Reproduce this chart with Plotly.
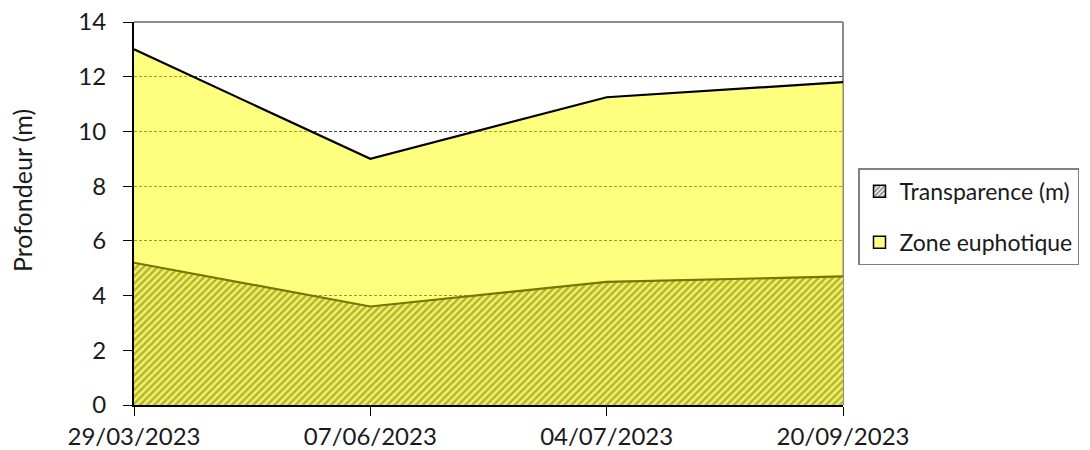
import plotly.graph_objects as go

dates = ["29/03/2023", "07/06/2023", "04/07/2023", "20/09/2023"]
zone_euphotique = [13.0, 9.0, 11.25, 11.8]
transparence = [5.2, 3.6, 4.5, 4.7]

FONT = "Lato"
TXT = "#1a1a1a"
HATCH = dict(shape="/", fgcolor="#767600", bgcolor="#f2f266", size=5, solidity=0.5)

fig = go.Figure()
fig.add_trace(go.Scatter(
    x=dates, y=zone_euphotique, name="Zone euphotique",
    mode="lines", fill="tozeroy",
    fillcolor="rgba(255,255,0,0.5)",
    line=dict(color="#000000", width=2.2),
    showlegend=False,
))
fig.add_trace(go.Scatter(
    x=dates, y=transparence, name="Transparence (m)",
    mode="lines", fill="tozeroy",
    fillcolor="#f2f266",
    fillpattern=HATCH,
    line=dict(color="#767600", width=2.2),
    showlegend=False,
))

# legend swatches (square symbols like the reference)
fig.add_trace(go.Bar(
    x=[None], y=[None], name="Transparence (m)", legendgroup="a",
    marker=dict(color="white", line=dict(color="black", width=1.5),
                pattern=dict(shape="/", fgcolor="black", bgcolor="white", size=4, solidity=0.5)),
))
fig.add_trace(go.Bar(
    x=[None], y=[None], name="Zone euphotique", legendgroup="b",
    marker=dict(color="#ffff80", line=dict(color="black", width=1.5)),
))

# the page body adds an 8px margin, so the figure is 8px smaller and shifted
fig.update_layout(
    width=1082, height=442,
    margin=dict(l=126, r=247, t=14, b=45, autoexpand=False),
    plot_bgcolor="white", paper_bgcolor="white",
    font=dict(family=FONT, size=24, color=TXT),
    showlegend=True,
    legend=dict(
        x=(850 - 126) / 709, y=0.618, xanchor="left", yanchor="top",
        bordercolor="#808080", borderwidth=1.5,
        traceorder="grouped",
        font=dict(family=FONT, size=23, color=TXT),
        tracegroupgap=18,
    ),
    xaxis=dict(
        type="category", range=[0, 3],
        showgrid=False, showline=True, linecolor="black", linewidth=2,
        ticks="outside", ticklen=9, tickcolor="black", tickwidth=1,
        zeroline=False, automargin=False, ticklabelstandoff=0,
        ticklabeloverflow="allow",
    ),
    yaxis=dict(
        range=[0, 14], dtick=2,
        showgrid=True, gridcolor="#404040", gridwidth=1, griddash="3px,2px",
        showline=True, linecolor="black", linewidth=2,
        ticks="outside", ticklen=9, tickcolor="black", tickwidth=1,
        zeroline=False, automargin=False, ticklabelstandoff=12,
        ticklabeloverflow="allow",
    ),
)

fig.add_annotation(
    text="Profondeur (m)", textangle=-90, xref="paper", yref="paper",
    x=(22 - 134) / 709, y=(405 - 191) / 383, showarrow=False,
    xanchor="center", yanchor="middle",
    font=dict(family=FONT, size=25, color=TXT),
)

# top and right plot-area border in gray
fig.add_shape(type="line", xref="paper", yref="paper", x0=0, x1=1, y0=1, y1=1,
              line=dict(color="#8c8c8c", width=2))
fig.add_shape(type="line", xref="paper", yref="paper", x0=1, x1=1, y0=0, y1=1,
              line=dict(color="#8c8c8c", width=2), layer="below")

fig.write_html("out.html")
